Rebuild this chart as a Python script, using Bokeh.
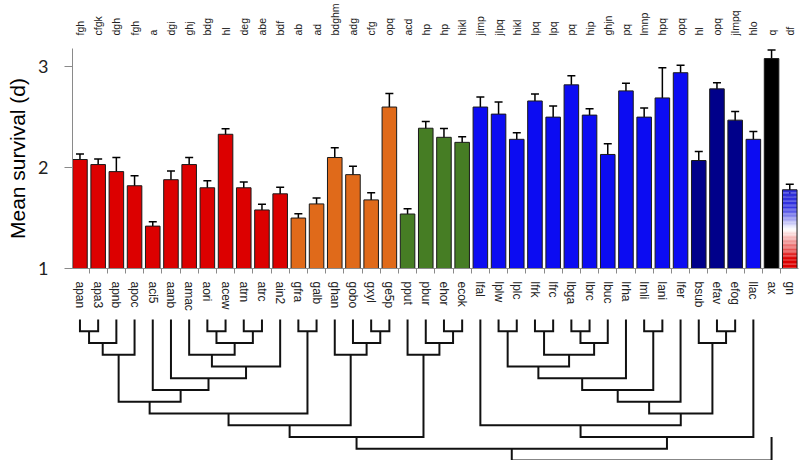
import numpy as np
from bokeh.plotting import figure
from bokeh.models import (ColumnDataSource, FixedTicker, Range1d, Whisker, TeeHead, LinearAxis)
from bokeh.layouts import column
from bokeh.embed import file_html
from bokeh.resources import INLINE

# ---------------- data ----------------
strains = ["apan", "apa3", "apnb", "apoc", "aci5", "aanb", "amac", "aori", "acew", "atrn", "atrc", "ain2",
           "gfra", "galb", "ghan", "gobo", "gxyl", "ge5p",
           "pput", "pbur", "ehor", "ecok",
           "lfal", "lplw", "lplc", "lfrk", "lfrc", "lbga", "lbrc", "lbuc", "lrha", "lmli", "lani", "lfer",
           "bsub", "efav", "efog", "llac", "ax", "gn"]
survival = [2.08, 2.03, 1.96, 1.82, 1.42, 1.88, 2.03, 1.80, 2.33, 1.80, 1.58, 1.74,
            1.50, 1.64, 2.10, 1.93, 1.68, 2.60,
            1.54, 2.39, 2.30, 2.25,
            2.60, 2.53, 2.28, 2.66, 2.50, 2.82, 2.52, 2.13, 2.76, 2.50, 2.69, 2.94,
            2.07, 2.78, 2.47, 2.28, 3.08, 1.78]
sem = [0.055, 0.055, 0.14, 0.10, 0.043, 0.085, 0.07, 0.07, 0.055, 0.056, 0.056, 0.066,
       0.043, 0.058, 0.097, 0.084, 0.07, 0.134,
       0.053, 0.066, 0.087, 0.056,
       0.10, 0.12, 0.066, 0.07, 0.11, 0.09, 0.063, 0.105, 0.076, 0.09, 0.30, 0.073,
       0.09, 0.06, 0.086, 0.078, 0.085, 0.056]
letters = ["fgh", "cfgk", "dgh", "fgh", "a", "dgi", "ghj", "bdg", "hl", "deg", "abe", "bdf",
           "ab", "ad", "bdghm", "adg", "cfg", "opq",
           "acd", "hp", "hp", "hikl",
           "jlmp", "jlpq", "hikl", "lpq", "lpq", "pq", "hip", "ghjn", "pq", "lmnp", "hpq", "opq",
           "hl", "opq", "jlmpq", "hlo", "q", "df"]
groups = ["red"] * 12 + ["orange"] * 6 + ["green"] * 4 + ["blue"] * 12 + ["navy", "navy", "navy"] + \
         ["blue", "black", "gradient"]
y_ticks = [1, 2, 3]

# dendrogram: (node, left, right, level)
merges = [
    ("n1", "apan", "apa3", 1), ("n2", "n1", "apnb", 2), ("n3", "n2", "apoc", 3),
    ("n4", "aori", "acew", 1), ("n5", "atrn", "atrc", 1), ("n6", "n4", "n5", 2),
    ("n7", "amac", "n6", 3), ("n8", "n7", "ain2", 4), ("n9", "aanb", "n8", 5),
    ("n10", "aci5", "n9", 6), ("n11", "n3", "n10", 7), ("n12", "gfra", "galb", 1),
    ("n13", "n11", "n12", 8), ("n14", "gxyl", "ge5p", 1), ("n15", "gobo", "n14", 2),
    ("n16", "ghan", "n15", 3), ("n17", "n13", "n16", 9), ("n18", "ehor", "ecok", 1),
    ("n19", "pbur", "n18", 2), ("n20", "pput", "n19", 3), ("n21", "n17", "n20", 10),
    ("n22", "lplw", "lplc", 1), ("n23", "lfrk", "lfrc", 1), ("n24", "lbga", "lbrc", 1),
    ("n25", "n24", "lbuc", 2), ("n26", "n23", "n25", 3), ("n27", "n22", "n26", 4),
    ("n28", "n27", "lrha", 5), ("n29", "lmli", "lani", 1), ("n30", "n28", "n29", 6),
    ("n31", "n30", "lfer", 7), ("n32", "efav", "efog", 1), ("n33", "bsub", "n32", 2),
    ("n34", "n31", "n33", 8), ("n35", "lfal", "n34", 9), ("n36", "n35", "llac", 10),
    ("n37", "n21", "n36", 11), ("n38", "n37", "ax", 12),
]
leaf_top = {"ax": 10}

# ---------------- styles ----------------
palette = {"red": "#dc0000", "orange": "#e06a1a", "green": "#467d24", "blue": "#0c0cf2",
           "navy": "#00008a", "black": "#000000", "gradient": None}
AX_GRAY = "#8a8a8a"

xs = list(range(1, len(strains) + 1))
y_top = 3.18

p = figure(frame_width=726, frame_height=220,
           x_range=Range1d(0.59, 40.48), y_range=Range1d(1, y_top),
           output_backend="svg", toolbar_location=None,
           min_border_left=72, min_border_right=2, min_border_top=47, min_border_bottom=42)
p.grid.visible = False
p.outline_line_color = None
p.background_fill_color = "white"

# gradient bar for "gn"
gi = strains.index("gn")
nseg = 60
edges = np.linspace(1, survival[gi], nseg + 1)
stops_f = [0.0, 0.12, 0.5, 0.78, 1.0]
stops_c = [(220, 0, 0), (220, 0, 0), (255, 255, 255), (50, 50, 225), (45, 45, 215)]
cols = []
for k in range(nseg):
    f = (k + 0.5) / nseg
    rgb = [int(round(np.interp(f, stops_f, [c[j] for c in stops_c]))) for j in range(3)]
    cols.append("#%02x%02x%02x" % tuple(rgb))
p.quad(left=[xs[gi] - 0.4] * nseg, right=[xs[gi] + 0.4] * nseg,
       bottom=edges[:-1], top=edges[1:], fill_color=cols, line_color=None)

src = ColumnDataSource(dict(
    x=xs, top=survival,
    fill=[palette[g] if palette[g] else None for g in groups],
    upper=[v + e for v, e in zip(survival, sem)],
    lower=[v - e for v, e in zip(survival, sem)],
))
p.vbar(x="x", top="top", bottom=1, width=0.8, source=src,
       fill_color="fill", line_color="#1a1a1a", line_width=1)

whisk = Whisker(source=src, base="x", upper="upper", lower="lower", dimension="height",
                line_color="black", line_width=1.5,
                upper_head=TeeHead(size=8, line_color="black", line_width=1.5),
                lower_head=TeeHead(size=8, line_color="black", line_width=1.5))
p.add_layout(whisk)

# x axis (strain names)
p.xaxis.ticker = FixedTicker(ticks=xs, minor_ticks=[x - 0.5 for x in xs] + [xs[-1] + 0.5])
p.xaxis.major_label_overrides = {x: s for x, s in zip(xs, strains)}
p.xaxis.major_label_orientation = "vertical"
p.xaxis.major_tick_out = 0
p.xaxis.major_tick_in = 0
p.xaxis.minor_tick_out = 5
p.xaxis.minor_tick_in = 0
p.xaxis.minor_tick_line_color = AX_GRAY
p.xaxis.axis_line_color = AX_GRAY
p.xaxis.major_label_standoff = 8
p.xaxis.major_label_text_font = "Liberation Sans"
p.xaxis.major_label_text_font_size = "12px"
p.xaxis.major_label_text_color = "#222222"

# top axis: significance letters
top_axis = LinearAxis(ticker=FixedTicker(ticks=xs),
                      major_label_overrides={x: s for x, s in zip(xs, letters)},
                      major_label_orientation="vertical",
                      axis_line_color=None, major_tick_line_color=None, minor_tick_line_color=None,
                      major_tick_out=0, major_tick_in=0, major_label_standoff=13,
                      major_label_text_font="Liberation Sans", major_label_text_font_size="10.5px",
                      major_label_text_color="#222222")
p.add_layout(top_axis, "above")

# y axis
p.yaxis.ticker = FixedTicker(ticks=y_ticks)
p.yaxis.axis_label = "Mean survival (d)"
p.yaxis.axis_label_text_font = "Liberation Sans"
p.yaxis.axis_label_text_font_style = "normal"
p.yaxis.axis_label_text_font_size = "21px"
p.yaxis.axis_label_text_color = "black"
p.yaxis.axis_label_standoff = 6
p.yaxis.major_label_text_font = "Lato"
p.yaxis.major_label_text_font_size = "18px"
p.yaxis.major_label_text_color = "#222222"
p.yaxis.major_label_standoff = 16
p.yaxis.major_tick_out = 8
p.yaxis.major_tick_in = 0
p.yaxis.minor_tick_line_color = None
p.yaxis.axis_line_color = AX_GRAY
p.yaxis.major_tick_line_color = AX_GRAY

# ---------------- dendrogram ----------------
d = figure(frame_width=726, frame_height=151, x_range=p.x_range, y_range=Range1d(12.34, -0.51),
           output_backend="svg", toolbar_location=None, x_axis_location=None, y_axis_location=None,
           min_border_left=72, min_border_right=2, min_border_top=0, min_border_bottom=0)
d.grid.visible = False
d.outline_line_color = None

pos = {s: (x, leaf_top.get(s, 0)) for s, x in zip(strains, xs)}
lx, ly = [], []
for node, a, b, lev in merges:
    xa, ha = pos[a]
    xb, hb = pos[b]
    lx.append([xa, xa, xb, xb])
    ly.append([ha, lev, lev, hb])
    pos[node] = ((xa + xb) / 2, lev)
d.multi_line(xs=lx, ys=ly, line_color="#111111", line_width=2, line_join="miter")

layout = column(p, d, spacing=0)
open("out.html", "w").write(file_html(layout, INLINE))
